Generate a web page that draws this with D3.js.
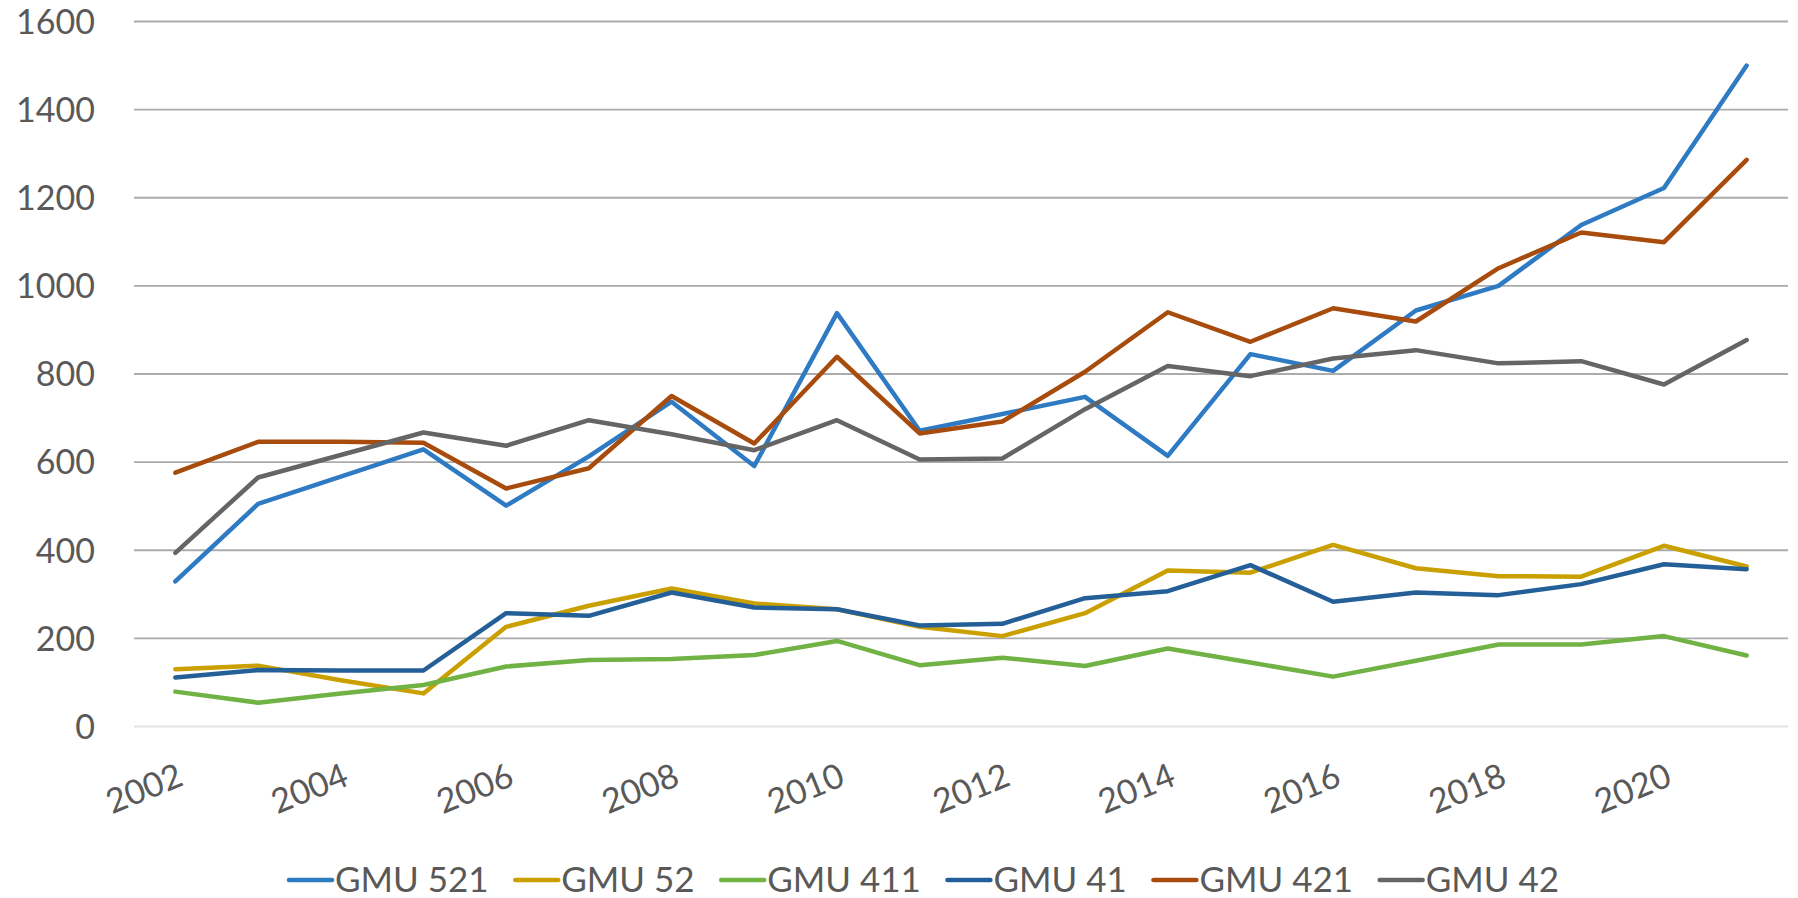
<!DOCTYPE html>
<html>
<head>
<meta charset="utf-8">
<script src="https://cdn.jsdelivr.net/npm/d3@7"></script>
<style>
  body { margin: 0; background: #fff; }
  text { font-family: Lato, "Open Sans", sans-serif; fill: #595959; }
</style>
</head>
<body>
<svg width="1798" height="898"></svg>
<script>
const years = [2002, 2003, 2004, 2005, 2006, 2007, 2008, 2009, 2010, 2011,
  2012, 2013, 2014, 2015, 2016, 2017, 2018, 2019, 2020, 2021];
const yTicks = [0, 200, 400, 600, 800, 1000, 1200, 1400, 1600];
const xTicks = [2002, 2004, 2006, 2008, 2010, 2012, 2014, 2016, 2018, 2020];

const seriesNames = ["GMU 521", "GMU 52", "GMU 411", "GMU 41", "GMU 421", "GMU 42"];
const seriesColors = ["#2e7bc4", "#c9a000", "#70b244", "#245f98", "#a84c0e", "#656565"];

const gmu521 = [328, 504, 566, 628, 500, 612, 736, 590, 937, 670,
  708, 747, 613, 844, 806, 943, 999, 1137, 1221, 1499];
const gmu52 = [129, 137, 104, 74, 225, 273, 312, 278, 265, 225,
  204, 256, 353, 348, 411, 358, 340, 339, 409, 362];
const gmu411 = [78, 53, 74, 93, 135, 150, 152, 161, 193, 138,
  155, 136, 176, 144, 112, 148, 185, 185, 204, 160];
const gmu41 = [110, 127, 126, 126, 256, 250, 303, 269, 265, 228,
  232, 290, 306, 365, 282, 303, 297, 322, 367, 356];
const gmu421 = [575, 645, 645, 643, 539, 585, 749, 641, 838, 664,
  691, 804, 939, 872, 948, 918, 1039, 1120, 1098, 1285];
const gmu42 = [393, 564, 615, 666, 636, 694, 662, 626, 694, 605,
  607, 719, 817, 794, 834, 853, 823, 828, 775, 876];

const seriesValues = [gmu521, gmu52, gmu411, gmu41, gmu421, gmu42];

(function () {
  "use strict";
  const svg = d3.select("svg");
  const width = +svg.attr("width");

  const margin = { top: 21, right: 10, bottom: 172, left: 134 };
  const innerWidth = width - margin.left - margin.right;
  const innerHeight = 726 - margin.top;

  const xScale = d3.scalePoint().domain(years).range([0, innerWidth]).padding(0.5);
  const yScale = d3.scaleLinear().domain([0, 1600]).range([innerHeight, 0]);

  const g = svg.append("g")
    .attr("transform", `translate(${margin.left},${margin.top})`);

  // grid + y labels
  const yAxis = d3.axisLeft(yScale)
    .tickValues(yTicks)
    .tickFormat(d3.format("d"))
    .tickSize(-innerWidth)
    .tickPadding(39);
  const yAxisG = g.append("g").call(yAxis);
  yAxisG.select(".domain").remove();
  yAxisG.selectAll(".tick line")
    .attr("stroke", (d) => (d === 0 ? "#e2e2e2" : "#ababab"))
    .attr("stroke-width", 1.8);
  yAxisG.selectAll(".tick text")
    .attr("font-size", 34)
    .attr("fill", "#595959")
    .attr("dy", "0.36em");

  // x labels, rotated
  const xAxis = d3.axisBottom(xScale).tickValues(xTicks).tickSize(0).tickPadding(0);
  const xAxisG = g.append("g").attr("transform", `translate(0,${innerHeight})`).call(xAxis);
  xAxisG.select(".domain").remove();
  xAxisG.selectAll(".tick text")
    .attr("font-size", 34)
    .attr("fill", "#595959")
    .attr("text-anchor", "end")
    .attr("y", 0)
    .attr("dy", "0.72em")
    .attr("transform", "translate(0,36) rotate(-22)");

  // lines
  const lineGenerator = d3.line()
    .x((d, i) => xScale(years[i]))
    .y((d) => yScale(d));

  seriesValues.forEach((vals, k) => {
    g.append("path")
      .attr("d", lineGenerator(vals))
      .attr("fill", "none")
      .attr("stroke", seriesColors[k])
      .attr("stroke-width", 4.5)
      .attr("stroke-linejoin", "round")
      .attr("stroke-linecap", "round");
  });

  // legend, spread between x=289 and x=1559
  const legend = svg.append("g").attr("transform", "translate(0,880)");
  const legendStart = 289;
  const legendEnd = 1559;
  const items = seriesNames.map((name, k) => {
    const item = legend.append("g");
    item.append("line")
      .attr("x1", 0).attr("x2", 43)
      .attr("stroke", seriesColors[k])
      .attr("stroke-width", 4.5)
      .attr("stroke-linecap", "round");
    const t = item.append("text")
      .attr("x", 46)
      .attr("dy", "0.35em")
      .attr("font-size", 35)
      .text(name);
    return { item, w: 46 + t.node().getComputedTextLength() };
  });
  const sumW = d3.sum(items, (d) => d.w);
  const gap = (legendEnd - legendStart - sumW) / (items.length - 1);
  let x = legendStart;
  items.forEach((d) => {
    d.item.attr("transform", `translate(${x},0)`);
    x += d.w + gap;
  });
})(d3);
</script>
</body>
</html>
